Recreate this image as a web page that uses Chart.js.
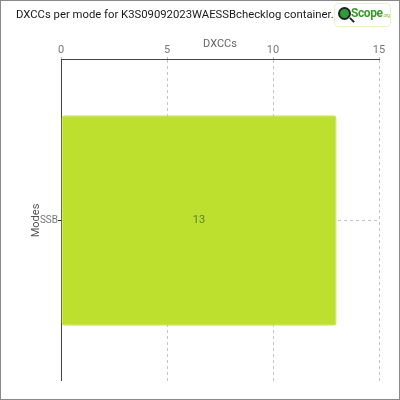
<!DOCTYPE html>
<html>
<head>
<meta charset="utf-8">
<script src="https://cdn.jsdelivr.net/npm/chart.js@4.4.0/dist/chart.umd.min.js"></script>
<style>
  body{margin:0;background:#fff}
  #wrap{position:relative;width:400px;height:400px}
  #logo{position:absolute;left:334px;top:3px;width:55px;height:22px;border:1px solid #eef0c8;border-radius:4px;background:#fff;font-family:Roboto,sans-serif;overflow:hidden}
  #logo .dot{position:absolute;left:3px;top:3px;width:9px;height:9px;border-radius:50%;background:#2f9a3a;border:2px solid #222}
  #logo .dot:after{content:"";position:absolute;left:9px;top:10px;width:6px;height:2px;background:#222;transform:rotate(45deg)}
  #logo .txt{position:absolute;left:16px;top:2px;color:#3a9a2a;font-weight:bold;font-size:12px;letter-spacing:-0.4px}
  #logo .txt small{font-size:5px;font-weight:normal;color:#8bc34a}
</style>
</head>
<body>
<div id="wrap">
  <canvas id="chart" width="400" height="400"></canvas>
  <div id="logo"><span class="dot"></span><span class="txt">Scope<small>.org</small></span></div>
</div>
<script>
var modes=["SSB"]
var dxccs=[13]
var xTicks=[0,5,10,15]
var titre="DXCCs per mode for K3S09092023WAESSBchecklog container."

const valueLabels={
  id:"valueLabels",
  afterDatasetsDraw(chart){
    const ctx=chart.ctx
    const meta=chart.getDatasetMeta(0)
    ctx.save()
    ctx.font="11px Roboto"
    ctx.fillStyle="#5f7f33"
    ctx.textAlign="center"
    ctx.textBaseline="middle"
    meta.data.forEach(function(bar,i){
      const c=bar.getCenterPoint()
      ctx.fillText(dxccs[i],c.x,c.y)
    })
    ctx.restore()
  },
  afterDraw(chart){
    const ctx=chart.ctx
    ctx.save()
    ctx.strokeStyle="#888"
    ctx.lineWidth=1
    ctx.strokeRect(0.5,0.5,399,399)
    ctx.restore()
  }
}

const zone=document.getElementById("chart")
const graphe=new Chart(zone,{
  type:"bar",
  data:{
    labels:modes,
    datasets:[{
      label:"DXCCs",
      data:dxccs,
      backgroundColor:"#bde02f",
      borderColor:"#c6e64a",
      borderWidth:1,
      borderRadius:3,
      borderSkipped:false,
      categoryPercentage:0.8,
      barPercentage:0.82
    }]
  },
  plugins:[valueLabels],
  options:{
    indexAxis:"y",
    responsive:false,
    animation:false,
    layout:{padding:{left:16,right:21,top:0,bottom:19}},
    plugins:{
      legend:{display:false},
      tooltip:{enabled:false},
      title:{
        display:true,
        text:titre,
        align:"start",
        color:"#1a1a1a",
        font:{family:"Roboto",size:11.3,weight:"normal"},
        padding:{top:8,bottom:8}
      }
    },
    scales:{
      x:{
        position:"top",
        min:0,
        max:15,
        afterBuildTicks:function(s){s.ticks=xTicks.map(function(v){return {value:v}})},
        afterFit:function(s){s.height=30.4},
        title:{display:true,text:"DXCCs",color:"#666",font:{family:"Roboto",size:11},padding:{top:8,bottom:0}},
        ticks:{color:"#777",font:{family:"Roboto",size:11},padding:0},
        grid:{color:"#c4c4c4",tickLength:3,tickBorderDash:[2,2],tickColor:"#bbb"},
        border:{color:"#444",width:1,dash:[3,3]}
      },
      y:{
        afterFit:function(s){s.width=45},
        title:{display:true,text:"Modes",color:"#555",font:{family:"Roboto",size:11},padding:{top:14,bottom:0}},
        ticks:{color:"#777",font:{family:"Roboto",size:10},padding:0},
        grid:{offset:false,color:"#c4c4c4",tickLength:3,tickColor:"#333"},
        border:{color:"#444",width:1,dash:[3,3]}
      }
    }
  }
})
</script>
</body>
</html>
